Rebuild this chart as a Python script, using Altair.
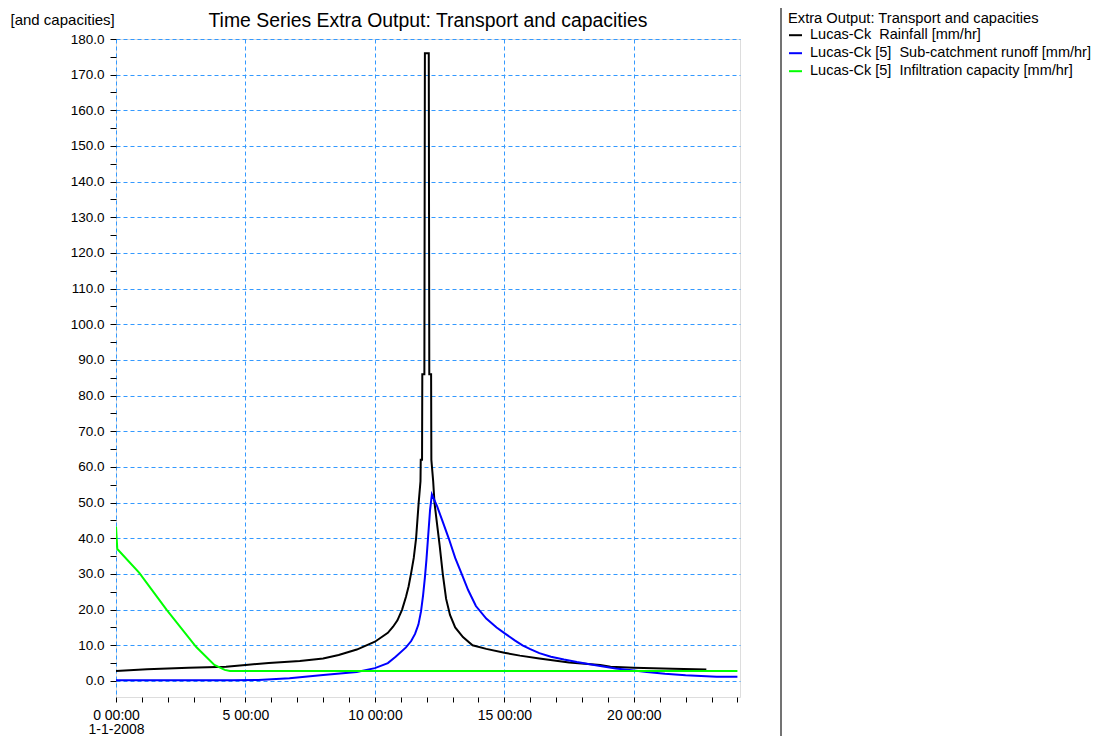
import altair as alt
import pandas as pd

# ---------------- data ----------------
rain_hours = [0, 1.2, 2.8, 4.25, 5.0, 5.9, 7.1, 8.0, 8.6, 9.3, 10.0, 10.5, 10.7, 10.87, 11.05, 11.2,
              11.3, 11.4, 11.5, 11.59, 11.69, 11.76, 11.77, 11.82, 11.83, 11.91, 11.92, 11.93,
              12.08, 12.09, 12.1, 12.17, 12.18, 12.25, 12.3, 12.4, 12.5, 12.62, 12.75, 12.9,
              13.1, 13.4, 13.77, 14.3, 15.0, 15.6, 16.35, 17.5, 18.7, 19.1, 20.0, 21.5, 22.8]
rain_values = [2.8, 3.3, 3.7, 4.0, 4.5, 5.0, 5.6, 6.3, 7.3, 8.8, 11.0, 13.5, 15.2, 17.0, 20.0, 23.6,
               26.5, 30.3, 34.5, 40.0, 50.0, 56.0, 62.0, 62.0, 86.0, 86.0, 131.0, 176.0,
               176.0, 131.0, 86.0, 86.0, 62.0, 56.0, 50.0, 44.0, 38.0, 30.0, 23.0, 18.5,
               15.0, 12.3, 10.0, 9.0, 7.9, 7.1, 6.3, 5.2, 4.5, 4.0, 3.7, 3.4, 3.2]

runoff_hours = [0, 4.5, 5.5, 6.7, 8.0, 9.3, 10.0, 10.5, 10.8, 11.2, 11.4, 11.55, 11.68, 11.78,
                11.86, 11.93, 11.99, 12.05, 12.13, 12.2, 12.4, 12.6, 12.85, 13.1, 13.35, 13.6,
                13.9, 14.3, 14.7, 15.0, 15.4, 15.7, 16.0, 16.35, 16.8, 17.3, 17.8, 18.3, 18.7,
                19.3, 20.0, 20.5, 21.2, 22.0, 23.2, 24.0]
runoff_values = [0.2, 0.2, 0.3, 0.75, 1.7, 2.5, 3.6, 5.0, 6.8, 9.4, 11.2, 13.2, 15.8, 19.5,
                 24.0, 29.0, 34.0, 40.0, 48.0, 52.3, 49.0, 45.0, 40.0, 34.5, 30.0, 25.5,
                 21.0, 17.5, 15.0, 13.4, 11.4, 10.0, 8.9, 7.8, 6.8, 6.0, 5.3, 4.7, 4.2,
                 3.5, 2.9, 2.5, 2.0, 1.6, 1.2, 1.2]

infil_hours = [0, 0.05, 0.9, 1.95, 3.1, 3.8, 4.2, 4.4, 24.0]
infil_values = [43.3, 37.0, 30.3, 20.0, 9.5, 4.5, 3.1, 2.8, 2.8]

series_names = [
    "Lucas-Ck\u00a0 Rainfall [mm/hr]",
    "Lucas-Ck [5]\u00a0 Sub-catchment runoff [mm/hr]",
    "Lucas-Ck [5]\u00a0 Infiltration capacity [mm/hr]",
]
series_colors = ["#000000", "#0000ff", "#00ff00"]

chart_title = "Time Series Extra Output: Transport and capacities"
legend_title = "Extra Output: Transport and capacities"
y_title = "[and capacities]"
x_tick_values = list(range(0, 25))
y_tick_values = list(range(0, 185, 5))

rows = []
for name, ts, vs in zip(series_names,
                        [rain_hours, runoff_hours, infil_hours],
                        [rain_values, runoff_values, infil_values]):
    for i, (t, v) in enumerate(zip(ts, vs)):
        rows.append({"series": name, "t": t, "v": v, "order": i})
df = pd.DataFrame(rows)

FONT = "Liberation Sans"
W, H = 624, 658
GRID = "#3399ff"

x_enc = alt.X(
    "t:Q",
    scale=alt.Scale(domain=[0, 24.1], nice=False, zero=False),
    axis=alt.Axis(
        title=None, values=x_tick_values, domain=False,
        labelExpr="datum.value === 0 ? ['0 00:00', '1-1-2008'] : (datum.value % 5 === 0 ? datum.value + ' 00:00' : '')",
        labelFont=FONT, labelFontSize=14, labelColor="#000", labelPadding=6,
        labelLineHeight=14, labelOverlap=False, labelFlush=False,
        tickSize=5, tickColor="#000", tickWidth=1,
        grid=True, gridColor=GRID, gridDash=[4, 3], gridWidth=1,
        gridOpacity={"condition": {"test": "datum.value % 5 === 0", "value": 1}, "value": 0},
    ),
)
y_enc = alt.Y(
    "v:Q",
    scale=alt.Scale(domain=[-4.5, 180], nice=False, zero=False),
    axis=alt.Axis(
        title=y_title, titleAngle=0, titleX=-106, titleY=-20, titleAlign="left",
        titleBaseline="middle", titleFont=FONT, titleFontSize=15, titleFontWeight="normal",
        titleColor="#000",
        values=y_tick_values, domain=False,
        labelExpr="datum.value % 10 === 0 ? format(datum.value, '.1f') : ''",
        labelFont=FONT, labelFontSize=13.5, labelColor="#000", labelPadding=6,
        labelOverlap=False,
        tickSize=6, tickColor="#000", tickWidth=1,
        grid=True, gridColor=GRID, gridDash=[4, 3], gridWidth=1,
        gridOpacity={"condition": {"test": "datum.value % 10 === 0", "value": 1}, "value": 0},
    ),
)
color_enc = alt.Color(
    "series:N",
    scale=alt.Scale(domain=series_names, range=series_colors),
    legend=alt.Legend(
        orient="none", legendX=672, legendY=-28, padding=0,
        title=legend_title, titleFont=FONT, titleFontSize=14.7, titleFontWeight="normal",
        titleColor="#000", titleLimit=600, titlePadding=2,
        labelFont=FONT, labelFontSize=14.5, labelColor="#000", labelLimit=600,
        labelOffset=7, rowPadding=3,
        symbolType="stroke", symbolSize=169, symbolStrokeWidth=2,
    ),
)

base = alt.Chart(df)
layers = []
for name in series_names:
    layers.append(
        base.transform_filter(alt.datum.series == name)
        .mark_line(strokeWidth=2, clip=True)
        .encode(x=x_enc, y=y_enc, color=color_enc, order="order:Q")
    )

separator = alt.Chart(pd.DataFrame({"a": [0]})).mark_rule(color="#444444", strokeWidth=1.5).encode(
    x=alt.value(665), y=alt.value(-31), y2=alt.value(H + 60)
)

chart = alt.layer(*layers, separator).properties(
    width=W, height=H,
    title=alt.TitleParams(chart_title, font=FONT, fontSize=19.4, fontWeight="normal",
                          color="#000", anchor="middle", offset=0, dy=24),
    autosize=alt.AutoSizeParams(type="none"),
    padding={"left": 108, "top": 31, "right": 355, "bottom": 39},
).configure_view(stroke="#000", strokeWidth=2).configure(background="white")

chart.save("out.html", embed_options={"renderer": "svg", "actions": False})
